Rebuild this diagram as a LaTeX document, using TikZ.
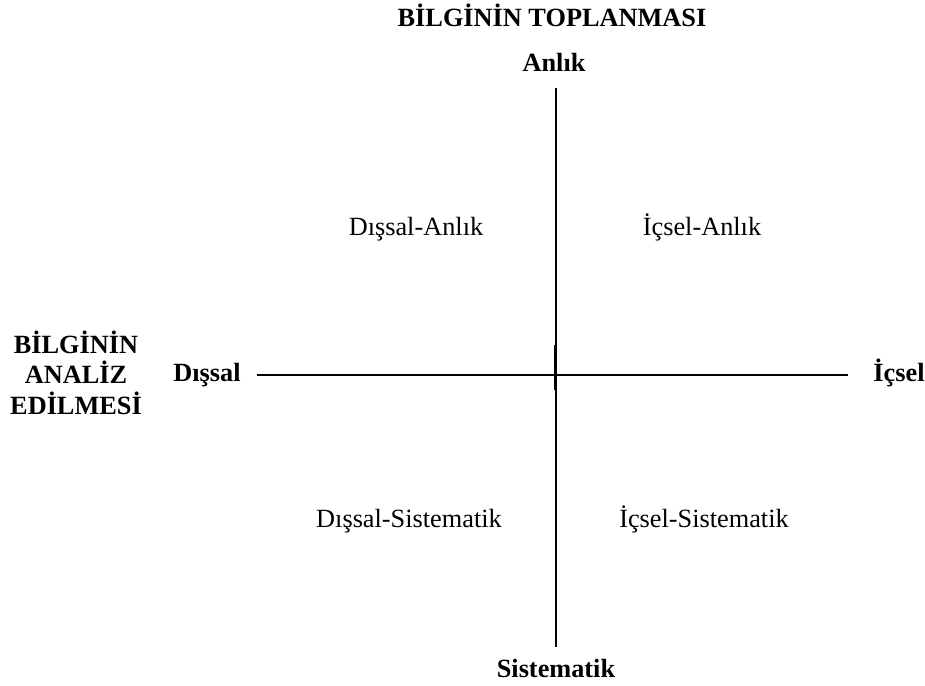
\documentclass[tikz,border=0pt]{standalone}
\usepackage{fontspec}
\setmainfont{Liberation Serif}
\usepackage{tikz}
\usetikzlibrary{calc,positioning}
\tikzset{
    axisline/.style={
    draw=black,line width=2.2pt
    },
    pole/.style={
    font=\fontsize{26.3}{30.5}\selectfont\bfseries,anchor=base,inner sep=0pt
    },
    quad/.style={
    font=\fontsize{26.3}{30.5}\selectfont,anchor=base,inner sep=0pt
    },
}
\begin{document}
\begin{tikzpicture}[x=1pt, y=-1pt]
   \useasboundingbox (0,0) rectangle (925,685);

   \node[pole] (title)  at (552,27)  {BİLGİNİN TOPLANMASI};
   \node[pole] (anlik)  at (554,71)  {Anlık};
   \node[pole] (sist)   at (556,677) {Sistematik};
   \node[pole] (dissal) at (207,381) {Dışsal};
   \node[pole] (icsel)  at (899,381) {İçsel};
   \node[pole,align=center] (analiz) at (76,414) {BİLGİNİN\\ANALİZ\\EDİLMESİ};

   \node[quad] (da) at (416,235) {Dışsal-Anlık};
   \node[quad] (ia) at (702,235) {İçsel-Anlık};
   \node[quad] (ds) at (409,527) {Dışsal-Sistematik};
   \node[quad] (is) at (704,527) {İçsel-Sistematik};

   \coordinate (ntop) at (556,88);
   \coordinate (nbot) at (556,647);
   \coordinate (wend) at (257,375);
   \coordinate (eend) at (848,375);
   \coordinate (ttop) at (555.4,345);
   \coordinate (tbot) at (555.4,390);

  \path[axisline]
    (ntop) edge (nbot)
    (wend) edge (eend)
    (ttop) edge (tbot);
\end{tikzpicture}
\end{document}
